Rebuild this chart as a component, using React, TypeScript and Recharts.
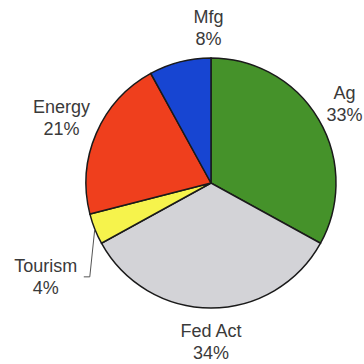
import { PieChart, Pie, Cell } from "recharts";

const sectors = ["Ag", "Fed Act", "Tourism", "Energy", "Mfg"];
const shares = [33, 34, 4, 21, 8];
const colors = ["#45922a", "#d3d3d7", "#f6f34c", "#ef3f1d", "#1745d2"];

// label nudges (extra radius, angle shift in degrees) so text sits like the original
const labelNudge: Record<string, { dr: number; da: number; leader?: boolean }> = {
  Ag: { dr: 30, da: 0 },
  "Fed Act": { dr: 34, da: 0 },
  Tourism: { dr: 65, da: 8, leader: true },
  Energy: { dr: 38, da: 0 },
  Mfg: { dr: 30, da: -13.5 },
};

const data = sectors.map((name, i) => ({ name, value: shares[i] }));

const RAD = Math.PI / 180;

const renderLabel = (props: any) => {
  const { cx, cy, midAngle, outerRadius, name, value } = props;
  const nudge = labelNudge[name] || { dr: 33, da: 0 };
  const a = (midAngle + nudge.da) * RAD;
  const r = outerRadius + nudge.dr;
  const x = cx + r * Math.cos(-a);
  const y = cy + r * Math.sin(-a);
  let leader = null;
  if (nudge.leader) {
    const sx = cx + outerRadius * Math.cos(-midAngle * RAD);
    const sy = cy + outerRadius * Math.sin(-midAngle * RAD);
    leader = (
      <polyline
        points={`${sx},${sy} ${x + 44},${y} ${x + 38},${y}`}
        fill="none"
        stroke="#555"
        strokeWidth={1}
      />
    );
  }
  return (
    <g>
      {leader}
      <text
        x={x}
        y={y - 5}
        textAnchor="middle"
        fill="#3a3a3a"
        fontSize={18}
        fontFamily="Liberation Sans, Arial, sans-serif"
      >
        {name}
      </text>
      <text
        x={x}
        y={y + 17}
        textAnchor="middle"
        fill="#3a3a3a"
        fontSize={18}
        fontFamily="Liberation Sans, Arial, sans-serif"
      >
        {value}%
      </text>
    </g>
  );
};

export default function App() {
  return (
    <div style={{ position: "absolute", left: 0, top: 0, width: 364, height: 364, background: "#fff" }}>
      <PieChart width={364} height={364} margin={{ top: 0, right: 0, bottom: 0, left: 0 }}>
        <Pie
          data={data}
          dataKey="value"
          nameKey="name"
          cx={211}
          cy={183}
          outerRadius={125}
          startAngle={90}
          endAngle={-270}
          stroke="#1a1a1a"
          strokeWidth={1.5}
          label={renderLabel}
          labelLine={false}
          isAnimationActive={false}
        >
          {data.map((d, i) => (
            <Cell key={d.name} fill={colors[i]} />
          ))}
        </Pie>
      </PieChart>
    </div>
  );
}
